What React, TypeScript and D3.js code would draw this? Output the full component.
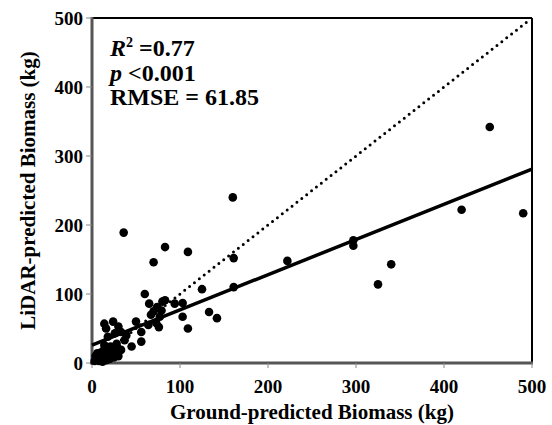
import * as d3 from 'd3'

const TICKS = [0, 100, 200, 300, 400, 500]

// ground-predicted (x) and LiDAR-predicted (y) biomass, kg
const GROUND = [
  452, 490, 420, 340, 325, 297, 297, 222, 160, 161, 161, 142, 133, 125, 109, 109,
  103, 103, 94, 83, 83, 70, 70, 36, 60, 65, 74, 80, 79, 77, 67, 73, 64, 76, 50, 56,
  56, 45, 33, 24, 14, 16, 30, 33, 39, 26, 18, 37, 28, 14,
  3, 5, 6, 8, 8, 10, 10, 12, 12, 13, 14, 15, 16, 17, 18, 19, 20, 21, 22, 24, 25, 27,
  29, 30, 6, 4
]
const LIDAR = [
  342, 217, 222, 143, 114, 178, 170, 148, 240, 152, 110, 65, 74, 107, 161, 50,
  87, 67, 86, 168, 91, 146, 75, 189, 100, 86, 81, 89, 76, 67, 70, 58, 55, 52, 60, 45,
  31, 24, 19, 60, 57, 50, 53, 45, 40, 43, 38, 33, 28, 26,
  3, 8, 5, 12, 3, 6, 15, 10, 2, 18, 8, 13, 4, 20, 10, 15, 6, 24, 12, 18, 8, 14,
  22, 10, 14, 10
]

// fitted regression line
const FIT_INTERCEPT = 26
const FIT_SLOPE = 0.51

const STATS = ['=0.77', '<0.001', 'RMSE = 61.85']

export default function App() {
  const width = 552
  const height = 425
  const m = { left: 92, right: 20, top: 18, bottom: 62 }
  const x = d3.scaleLinear().domain([0, 500]).range([m.left, width - m.right])
  const y = d3.scaleLinear().domain([0, 500]).range([height - m.bottom, m.top])
  const font = '"Liberation Serif", "Times New Roman", serif'

  const fitLine = d3.line<number>()
    .x(d => x(d))
    .y(d => y(FIT_INTERCEPT + FIT_SLOPE * d))

  const x0 = x(0), x1 = x(500), y0 = y(0), y1 = y(500)

  return (
    <svg width={width} height={height}
      style={{ position: 'absolute', left: 0, top: 0, background: '#fff', fontFamily: font, fontWeight: 'bold' }}>
      {/* frame */}
      <line x1={x0} x2={x1} y1={y1} y2={y1} stroke="#000" strokeWidth={2} />
      <line x1={x1} x2={x1} y1={y1} y2={y0} stroke="#000" strokeWidth={2} />
      <line x1={x0} x2={x0} y1={y1 - 1} y2={y0 + 1.5} stroke="#555" strokeWidth={3} />
      <line x1={x0 - 1.5} x2={x1 + 1} y1={y0} y2={y0} stroke="#555" strokeWidth={3} />

      {/* ticks */}
      {TICKS.map(t => (
        <g key={'t' + t}>
          <line x1={x0 - 6} x2={x0} y1={y(t)} y2={y(t)} stroke="#888" strokeWidth={1} />
          <line x1={x(t)} x2={x(t)} y1={y0} y2={y0 + 5} stroke="#888" strokeWidth={1} />
          <text x={x0 - 9} y={y(t)} dy="0.35em" textAnchor="end" fontSize={19}>{t}</text>
          <text x={x(t)} y={y0 + 30} textAnchor="middle" fontSize={19}>{t}</text>
        </g>
      ))}

      {/* 1:1 line */}
      <line x1={x(0)} y1={y(0)} x2={x(496)} y2={y(496)} stroke="#000" strokeWidth={3}
        strokeDasharray="0 6.2" strokeLinecap="round" />

      {/* points */}
      {GROUND.map((g, i) => (
        <circle key={i} cx={x(g)} cy={y(LIDAR[i])} r={4.3} fill="#000" />
      ))}

      {/* regression */}
      <path d={fitLine([0, 500]) ?? ''} stroke="#000" strokeWidth={3.5} fill="none" />

      {/* stats */}
      <text x={110} y={56} fontSize={24}>
        <tspan fontStyle="italic">R</tspan>
        <tspan fontSize={14} dy={-9}>2</tspan>
        <tspan dy={9}> {STATS[0]}</tspan>
      </text>
      <text x={110} y={81} fontSize={24}>
        <tspan fontStyle="italic">p</tspan> {STATS[1]}
      </text>
      <text x={110} y={105} fontSize={24}>{STATS[2]}</text>

      {/* axis titles */}
      <text x={(x0 + x1) / 2} y={419} textAnchor="middle" fontSize={21}>
        Ground-predicted Biomass (kg)
      </text>
      <text transform={`translate(35,${(y0 + y1) / 2}) rotate(-90)`} textAnchor="middle" fontSize={21}>
        LiDAR-predicted Biomass (kg)
      </text>
    </svg>
  )
}
